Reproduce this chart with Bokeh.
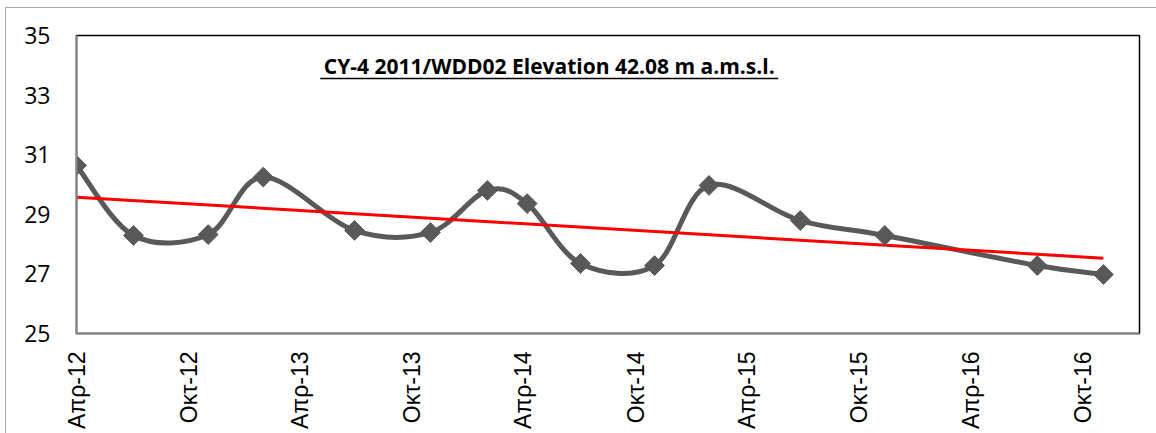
import numpy as np
import pandas as pd
from bokeh.plotting import figure
from bokeh.models import Range1d, FixedTicker, Label
from bokeh.embed import file_html
from bokeh.resources import INLINE

# ---------------- data ----------------
dates = ["2012-04-01", "2012-07-03", "2012-11-02", "2013-01-31", "2013-06-29",
         "2013-10-31", "2014-02-01", "2014-04-07", "2014-07-03", "2014-11-01",
         "2015-01-29", "2015-06-27", "2015-11-12", "2016-07-18", "2016-11-03"]
levels = [30.64, 28.29, 28.32, 30.25, 28.46,
          28.39, 29.80, 29.36, 27.35, 27.28,
          29.97, 28.79, 28.29, 27.28, 26.98]

tick_dates = ["2012-04-01", "2012-10-01", "2013-04-01", "2013-10-01", "2014-04-01",
              "2014-10-01", "2015-04-01", "2015-10-01", "2016-04-01", "2016-10-01"]
tick_labels = ["Απρ-12", "Οκτ-12", "Απρ-13", "Οκτ-13", "Απρ-14",
               "Οκτ-14", "Απρ-15", "Οκτ-15", "Απρ-16", "Οκτ-16"]
y_ticks = [25, 27, 29, 31, 33, 35]

title_text = "CY-4 2011/WDD02 Elevation 42.08 m a.m.s.l."


def ms(d):
    return int(pd.Timestamp(d).value // 10**6)


x = np.array([ms(d) for d in dates], dtype=float)
y = np.array(levels, dtype=float)

# light grey chart-area border (top and left edges visible), drawn as CSS background
bg = ("linear-gradient(#a6a6a6,#a6a6a6) 5px 7px / 1151px 1px no-repeat, "
      "linear-gradient(#a6a6a6,#a6a6a6) 5px 7px / 1px 426px no-repeat, white")

p = figure(width=1156, height=433, x_axis_type="datetime",
           x_range=Range1d(ms("2012-04-01"), ms("2017-01-01")),
           y_range=Range1d(25, 35),
           output_backend="svg", toolbar_location=None,
           min_border_left=76, min_border_right=17,
           min_border_top=35, min_border_bottom=100,
           styles={"background": bg})

p.border_fill_alpha = 0
p.background_fill_color = "white"
p.xgrid.visible = False
p.ygrid.visible = False
p.outline_line_color = "black"
p.outline_line_width = 1.5

# axes
tick_ms = [ms(d) for d in tick_dates]
p.xaxis.ticker = FixedTicker(ticks=tick_ms)
p.xaxis.major_label_overrides = {t: lab for t, lab in zip(tick_ms, tick_labels)}
p.xaxis.major_label_orientation = np.pi / 2
p.xaxis.major_label_text_font = "Liberation Sans"
p.xaxis.major_label_text_font_size = "23px"
p.xaxis.major_label_text_color = "black"
p.xaxis.major_label_standoff = 18
p.xaxis.major_tick_out = 0
p.xaxis.major_tick_in = 0
p.xaxis.minor_tick_out = 0
p.xaxis.minor_tick_in = 0
p.xaxis.axis_line_color = "#868686"
p.xaxis.axis_line_width = 2

p.yaxis.ticker = FixedTicker(ticks=y_ticks)
p.yaxis.major_label_text_font = "Open Sans"
p.yaxis.major_label_text_font_size = "23px"
p.yaxis.major_label_text_color = "black"
p.yaxis.major_label_standoff = 26
p.yaxis.major_tick_out = 0
p.yaxis.major_tick_in = 0
p.yaxis.minor_tick_out = 0
p.yaxis.minor_tick_in = 0
p.yaxis.axis_line_color = "#868686"
p.yaxis.axis_line_width = 2

# smoothed line (Catmull-Rom as cubic Bezier segments, like Excel's smooth line)
n = len(x)
xp = np.concatenate([[x[0]], x, [x[-1]]])
yp = np.concatenate([[y[0]], y, [y[-1]]])
x0 = x[:-1]; y0 = y[:-1]; x1 = x[1:]; y1 = y[1:]
cx0 = x0 + (xp[2:n + 1] - xp[0:n - 1]) / 6.0
cy0 = y0 + (yp[2:n + 1] - yp[0:n - 1]) / 6.0
cx1 = x1 - (xp[3:n + 2] - xp[1:n]) / 6.0
cy1 = y1 - (yp[3:n + 2] - yp[1:n]) / 6.0
p.bezier(x0=x0, y0=y0, x1=x1, y1=y1, cx0=cx0, cy0=cy0, cx1=cx1, cy1=cy1,
         line_color="#595959", line_width=5)

# linear trend line
days = (x - x[0]) / 86400000.0
a, b = np.polyfit(days, y, 1)
tx = np.array([x[0], x[-1]])
ty = a * ((tx - x[0]) / 86400000.0) + b
p.line(tx, ty, line_color="#ff0000", line_width=3)

# markers (square rotated 45 degrees = Excel diamond)
p.scatter(x, y, marker="square", angle=np.pi / 4, size=14,
          fill_color="#595959", line_color="#595959")

# title inside plot area
title_x = ms("2014-05-13")
title = Label(x=title_x, y=33.96, text=title_text, text_align="center",
              text_baseline="middle", text_font="Open Sans", text_font_style="bold",
              text_font_size="21px", text_color="black")
p.add_layout(title)
half = 374 * 86400000
p.segment(x0=[title_x - half], y0=[33.56], x1=[title_x + half], y1=[33.56],
          line_color="black", line_width=1.5)

open("out.html", "w").write(file_html(p, INLINE))
